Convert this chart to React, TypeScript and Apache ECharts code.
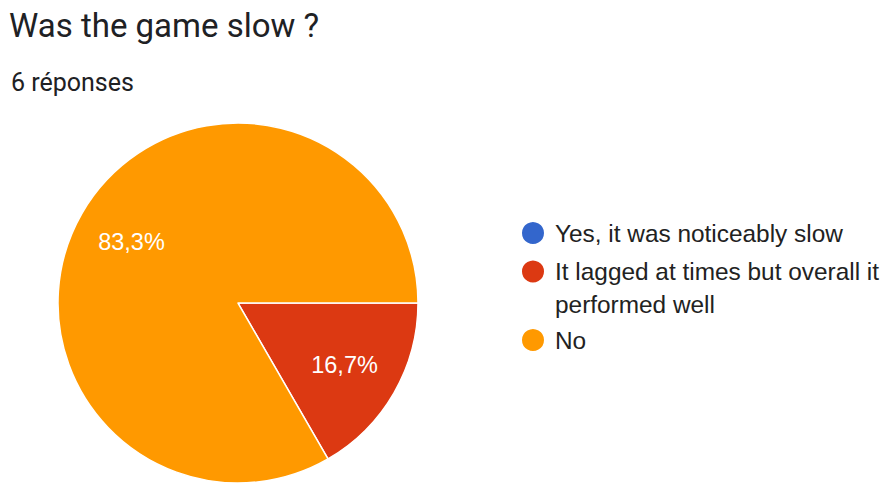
import React, { useEffect, useRef } from "react";
import * as echarts from "echarts";

const titleText = "Was the game slow ?";
const subtitleText = "6 réponses";
const categories = [
  "Yes, it was noticeably slow",
  "It lagged at times but overall it performed well",
  "No",
];
const legendLabels = [
  "Yes, it was noticeably slow",
  "\nIt lagged at times but overall it\nperformed well",
  "No",
];
const counts = [0, 1, 5];
const colors = ["#3366cc", "#dc3912", "#ff9900"];

export default function App() {
  const ref = useRef<HTMLDivElement>(null);
  useEffect(() => {
    if (!ref.current) return;
    const chart = echarts.init(ref.current, undefined, { renderer: "svg" });
    const data = categories.map((name, i) => ({
      name,
      value: counts[i],
      itemStyle: { color: colors[i] },
    }));
    const labelData = categories.map((name, i) => ({
      name,
      value: counts[i],
      itemStyle: { color: "rgba(0,0,0,0)" },
    }));
    const legendText = {
      fontFamily: "Liberation Sans, Arial, sans-serif",
      fontSize: 24.4,
      color: "#222222",
      lineHeight: 33,
    };
    const legendBase = {
      orient: "vertical" as const,
      left: 520,
      padding: 0,
      icon: "circle",
      itemWidth: 34,
      itemHeight: 24,
      selectedMode: false,
      textStyle: legendText,
      formatter: (name: string) => legendLabels[categories.indexOf(name)],
    };
    chart.setOption({
      animation: false,
      backgroundColor: "#ffffff",
      title: [
        {
          text: titleText,
          left: 9,
          top: 9,
          padding: 0,
          textStyle: {
            fontFamily: "Roboto, sans-serif",
            fontSize: 33,
            fontWeight: "normal",
            color: "#202124",
          },
        },
        {
          text: subtitleText,
          left: 11,
          top: 70,
          padding: 0,
          textStyle: {
            fontFamily: "Roboto, sans-serif",
            fontSize: 25,
            fontWeight: "normal",
            color: "#202124",
          },
        },
      ],
      legend: [
        { ...legendBase, top: 216.5, data: [categories[0]] },
        { ...legendBase, top: 222, data: [categories[1]] },
        { ...legendBase, top: 323.5, data: [categories[2]] },
      ],
      series: [
        {
          type: "pie",
          center: [238, 303],
          radius: [0, 180],
          startAngle: 0,
          clockwise: true,
          silent: true,
          label: { show: false },
          labelLine: { show: false },
          itemStyle: { borderColor: "#ffffff", borderWidth: 1.5 },
          data,
        },
        {
          type: "pie",
          center: [238, 303],
          radius: [60, 180],
          startAngle: 0,
          clockwise: true,
          silent: true,
          labelLine: { show: false },
          label: {
            show: true,
            position: "inside",
            color: "#ffffff",
            fontFamily: "Liberation Sans, Arial, sans-serif",
            fontSize: 23.5,
            formatter: (p: any) =>
              p.value > 0 ? p.percent.toFixed(1).replace(".", ",") + "%" : "",
          },
          data: labelData,
        },
      ],
    });
    return () => chart.dispose();
  }, []);
  return (
    <div
      ref={ref}
      style={{ position: "fixed", left: 0, top: 0, width: 885, height: 483 }}
    />
  );
}
